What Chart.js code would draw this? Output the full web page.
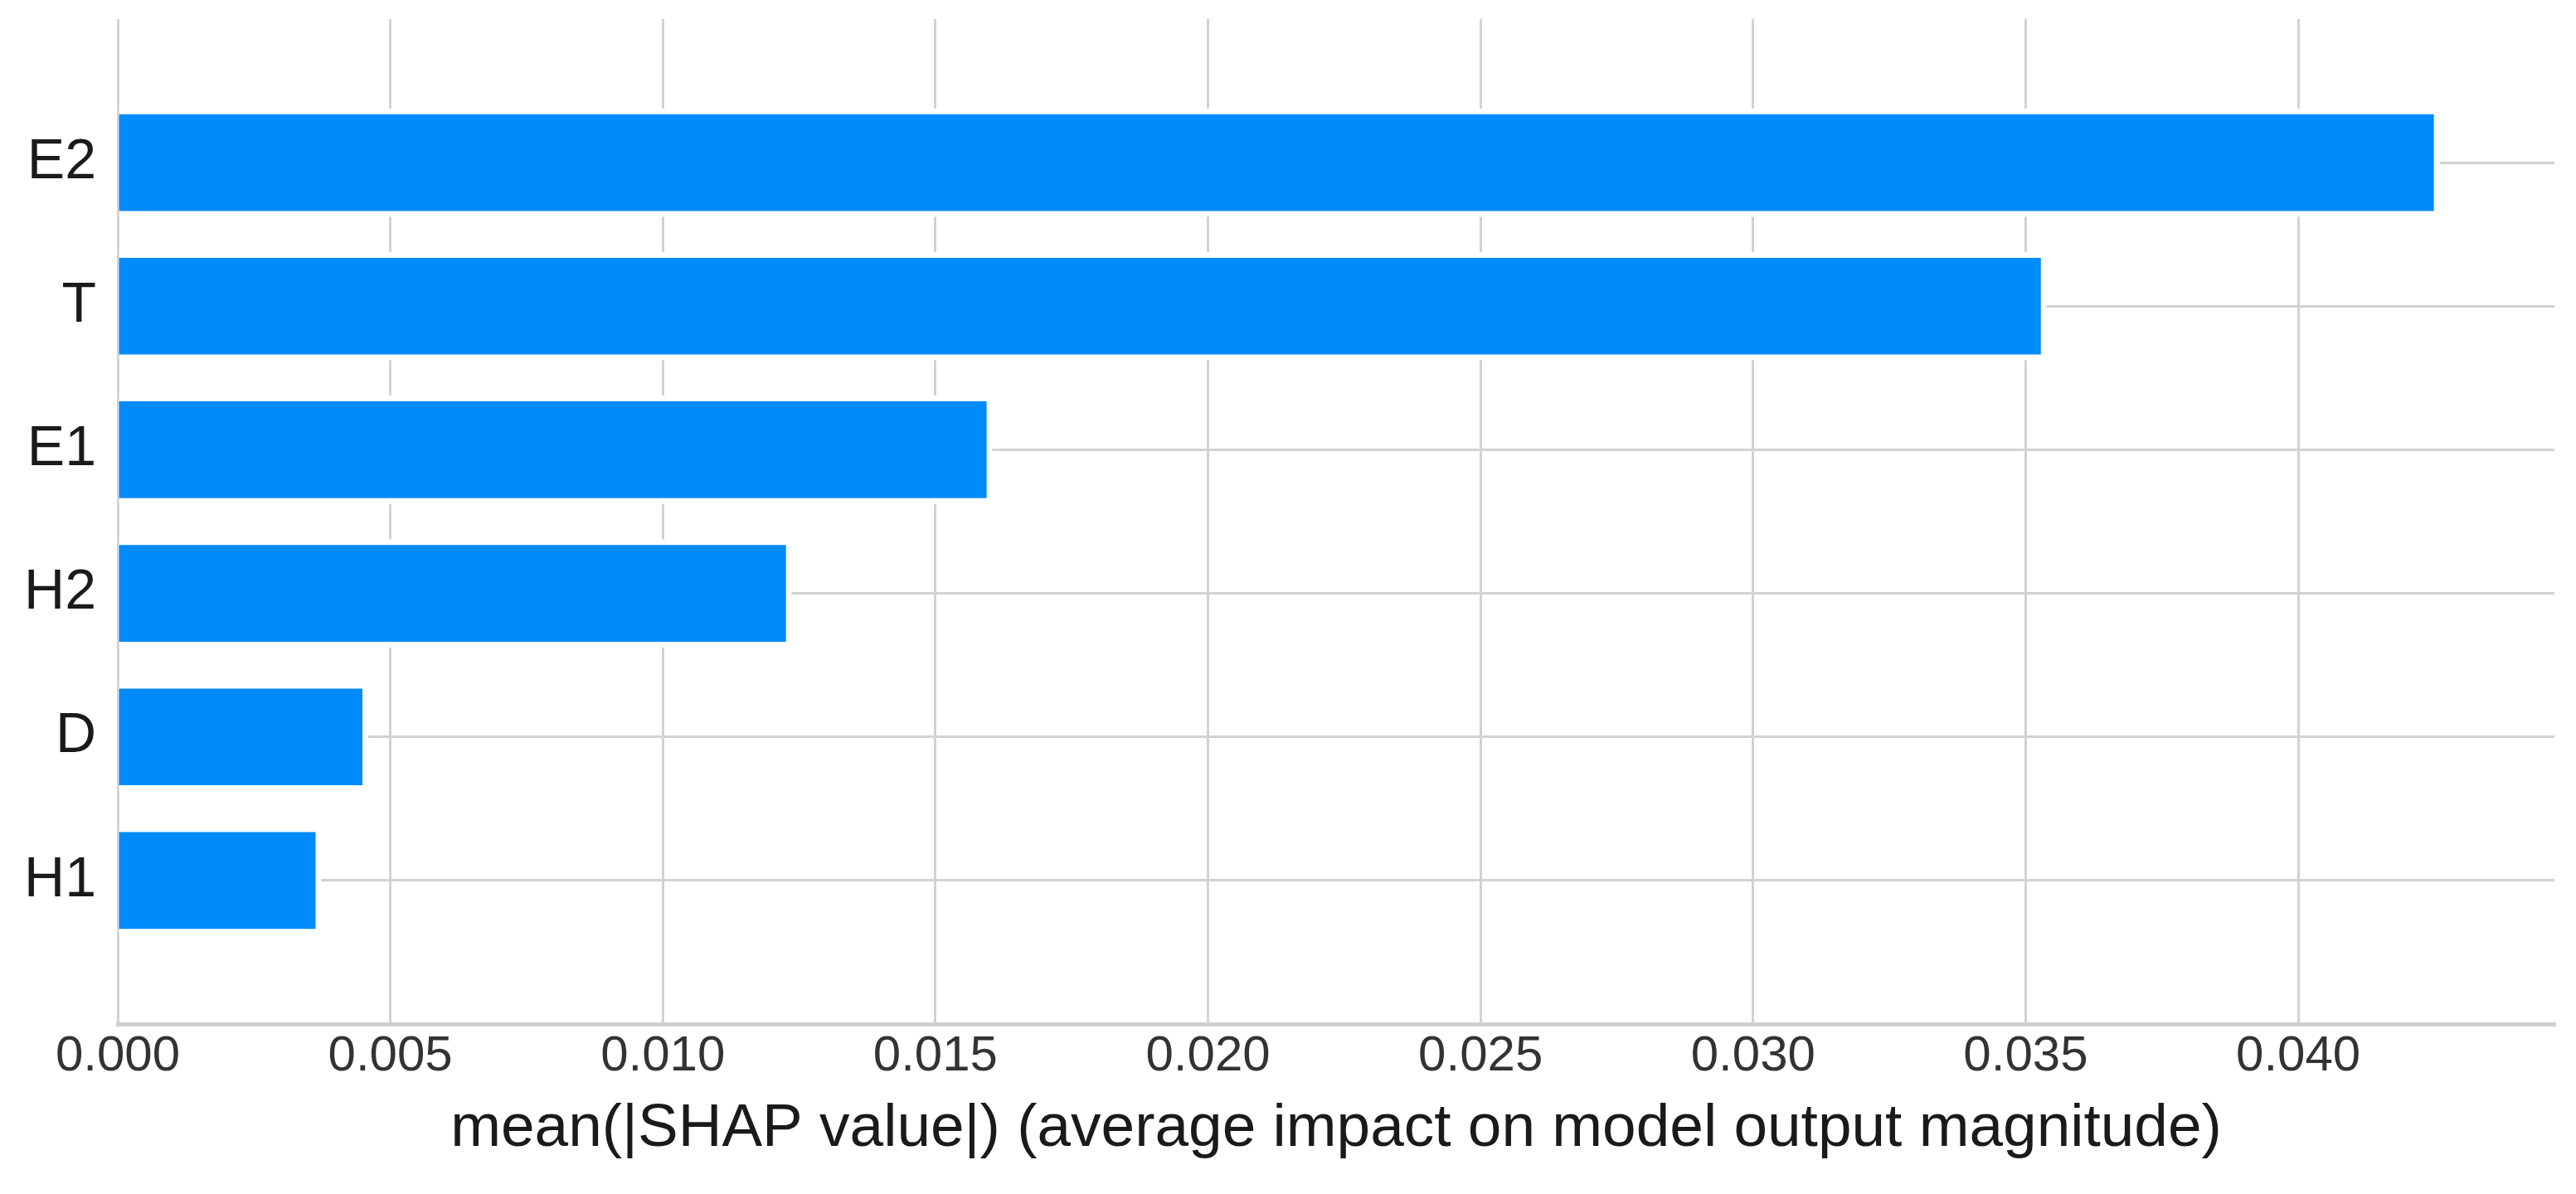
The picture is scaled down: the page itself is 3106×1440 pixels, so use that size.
<!DOCTYPE html>
<html>
<head>
<meta charset="utf-8">
<script src="https://cdn.jsdelivr.net/npm/chart.js@4/dist/chart.umd.min.js"></script>
<style>
  html, body { margin: 0; padding: 0; background: #ffffff; }
  #wrap { width: 3106px; height: 1440px; }
</style>
</head>
<body>
<div id="wrap"><canvas id="c" width="3106" height="1440"></canvas></div>
<script>
const categories = ['E2', 'T', 'E1', 'H2', 'D', 'H1'];
const meanAbsShap = [0.04259, 0.03538, 0.01604, 0.01236, 0.00459, 0.00373];
const xTickValues = [0.000, 0.005, 0.010, 0.015, 0.020, 0.025, 0.030, 0.035, 0.040];
const xTitle = 'mean(|SHAP value|) (average impact on model output magnitude)';

const labels = [''].concat(categories, ['']);
const data = [null].concat(meanAbsShap, [null]);

new Chart(document.getElementById('c'), {
  type: 'bar',
  data: {
    labels: labels,
    datasets: [{
      data: data,
      backgroundColor: '#008bfb',
      borderColor: '#ffffff',
      borderWidth: 7,
      borderSkipped: 'start',
      borderRadius: 4,
      barThickness: 130
    }]
  },
  options: {
    indexAxis: 'y',
    responsive: false,
    devicePixelRatio: 1,
    animation: false,
    layout: { padding: { top: 23, right: 26, bottom: 0, left: 0 } },
    plugins: { legend: { display: false }, tooltip: { enabled: false } },
    scales: {
      x: {
        type: 'linear',
        min: 0,
        max: 0.0447,
        afterBuildTicks: (scale) => { scale.ticks = xTickValues.map(v => ({ value: v })); },
        afterFit: (scale) => { scale.height = 205; scale.paddingLeft = 0; scale.paddingRight = 0; },
        grid: { color: '#d2d2d2', lineWidth: 3, drawTicks: false },
        border: { display: true, color: '#d0d0d0', width: 5 },
        ticks: {
          padding: 3,
          color: '#333333',
          font: { family: '"Liberation Sans", Arial, sans-serif', size: 60 },
          callback: (v) => Number(v).toFixed(3),
          maxRotation: 0
        },
        title: {
          display: true,
          text: xTitle,
          color: '#1a1a1a',
          font: { family: '"Liberation Sans", Arial, sans-serif', size: 73 },
          padding: { top: 0, bottom: 34 }
        }
      },
      y: {
        type: 'category',
        offset: false,
        afterFit: (scale) => { scale.width = 142; scale.paddingTop = 0; scale.paddingBottom = 0; },
        grid: {
          offset: false,
          color: (ctx) => (ctx.index === 0 || ctx.index === labels.length - 1) ? 'rgba(0,0,0,0)' : '#d2d2d2',
          lineWidth: 3,
          drawTicks: false
        },
        border: { display: false },
        ticks: {
          padding: 26,
          color: '#1a1a1a',
          font: { family: '"Liberation Sans", Arial, sans-serif', size: 68 },
          autoSkip: false
        }
      }
    }
  }
});
</script>
</body>
</html>
